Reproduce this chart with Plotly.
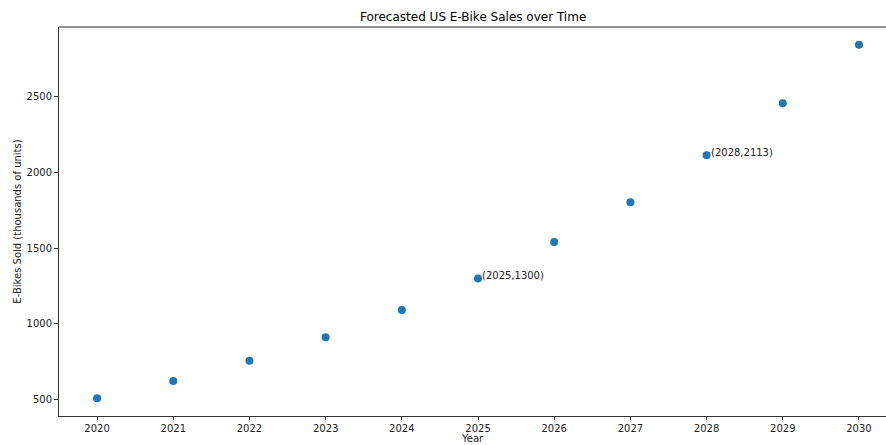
import plotly.graph_objects as go

years = [2020, 2021, 2022, 2023, 2024, 2025, 2026, 2027, 2028, 2029, 2030]
sales = [510, 624, 758, 912, 1092, 1300, 1540, 1803, 2113, 2456, 2842]
annotated_years = [2025, 2028]
x_ticks = list(range(2020, 2031))
y_ticks = [500, 1000, 1500, 2000, 2500]

FONT = "DejaVu Sans"
TXT = "#222222"

fig = go.Figure()
fig.add_trace(go.Scatter(
    x=years, y=sales, mode="markers",
    marker=dict(color="#1f77b4", size=8, line=dict(width=0)),
    hoverinfo="skip", showlegend=False,
))

annotations = []
for yr, v in zip(years, sales):
    if yr in annotated_years:
        annotations.append(dict(
            x=yr, y=v, xref="x", yref="y", text=f"({yr},{v})",
            showarrow=False, xanchor="left", yanchor="middle",
            xshift=2, yshift=3, font=dict(family=FONT, size=10, color=TXT),
        ))
annotations.append(dict(
    x=0.5, y=1, xref="paper", yref="paper", text="Forecasted US E-Bike Sales over Time",
    showarrow=False, xanchor="center", yanchor="bottom", yshift=1,
    font=dict(family=FONT, size=12, color="#000000"),
))
annotations.append(dict(
    x=0.5, y=0, xref="paper", yref="paper", text="Year",
    showarrow=False, xanchor="center", yanchor="bottom", yshift=-29, borderpad=0,
    font=dict(family=FONT, size=10, color=TXT),
))

fig.update_layout(
    width=886, height=445,
    margin=dict(l=59, r=0, t=27, b=29),
    paper_bgcolor="white", plot_bgcolor="white",
    font=dict(family=FONT, size=10, color=TXT),
    annotations=annotations,
    shapes=[dict(type="line", xref="paper", yref="paper", x0=0, x1=1, y0=1, y1=1,
                 line=dict(color="#333333", width=1))],
    xaxis=dict(
        range=[2019.5, 2030.355], tickvals=x_ticks, ticktext=[str(t) for t in x_ticks],
        showgrid=False, zeroline=False, showline=True, linecolor="#333333", linewidth=1,
        ticks="outside", ticklen=3, tickcolor="#333333", automargin=False,
    ),
    yaxis=dict(
        range=[393, 2959], tickvals=y_ticks, ticktext=[str(t) for t in y_ticks],
        showgrid=False, zeroline=False, showline=True, linecolor="#333333", linewidth=1,
        ticks="outside", ticklen=4, tickcolor="#333333",
        title=dict(text="E-Bikes Sold (thousands of units)", standoff=3,
                   font=dict(family=FONT, size=10, color=TXT)),
    ),
)

fig.write_html(
    "out.html",
    config={"displayModeBar": False},
    post_script="document.body.style.margin='0';document.body.style.overflow='hidden';",
)
